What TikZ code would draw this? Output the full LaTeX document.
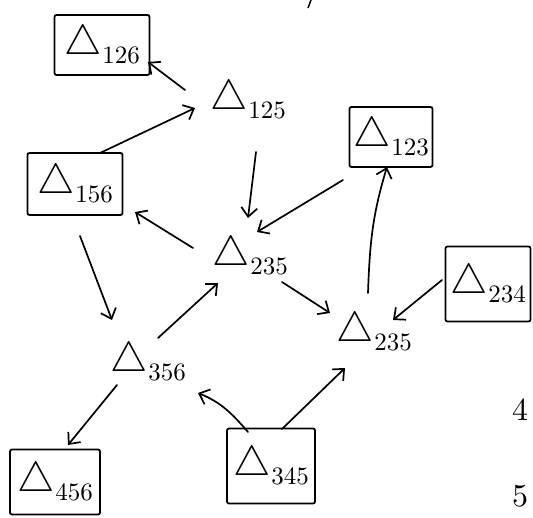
\documentclass[tikz,border=0pt]{standalone}
\usepackage{graphicx}
\usetikzlibrary{arrows.meta,calc}
\newcommand\mytri[1]{\scalebox{4.2}{$\triangle$}\kern1pt\raisebox{-9pt}{\scalebox{2.5}{#1}}}
\tikzset{
  lab/.style={inner sep=0pt},
  bx/.style={draw, line width=1.8pt, rounded corners=2pt, inner sep=0pt},
  arr/.style={line width=1.7pt, line cap=round, -{Straight Barb[length=9pt,width=16pt,line width=1.7pt]}},
  strayglyph/.style={inner sep=0pt, font=\fontsize{10}{12}\selectfont}
}
\begin{document}
\begin{tikzpicture}[x=1pt,y=-1pt]
\useasboundingbox (0,0) rectangle (533,518);
\clip (0,0) rectangle (533,518);
% boxed nodes
\node[bx, minimum width=95pt, minimum height=60pt] (b126) at (102,45) {\mytri{126}};
\node[bx, minimum width=83pt, minimum height=60pt] (b123) at (391,137) {\mytri{123}};
\node[bx, minimum width=95pt, minimum height=62pt] (b156) at (75,184) {\mytri{156}};
\node[bx, minimum width=85pt, minimum height=75pt] (b234) at (488,284) {\mytri{234}};
\node[bx, minimum width=90pt, minimum height=65pt] (b456) at (55,482) {\mytri{456}};
\node[bx, minimum width=88pt, minimum height=75pt] (b345) at (271,466) {\mytri{345}};
% plain nodes
\node[lab] (n125) at (248,100) {\mytri{125}};
\node[lab] (n235a) at (250,256) {\mytri{235}};
\node[lab] (n235b) at (374,332) {\mytri{235}};
\node[lab] (n356) at (148,362) {\mytri{356}};
% stray marks at the edges
\node[strayglyph] (m4) at (520,410) {\scalebox{3.2}{4}};
\node[strayglyph] (m5) at (520,496) {\scalebox{3.2}{5}};
\draw[line width=1.5pt] (311,0) -- (308,8);
% connectors
\draw[arr] ($(n125)+(-63,-10)$) -- ($(b126)+(46,17)$);
\draw[arr] ($(b156)+(25,-31)$) -- ($(n125)+(-53,8)$);
\draw[arr] ($(n125)+(8,52)$) -- ($(n235a)+(-2,-38)$);
\draw[arr] ($(b123)+(-48,43)$) -- ($(n235a)+(7,-24)$);
\draw[arr] ($(n235a)+(-57,-8)$) -- ($(b156)+(60,28)$);
\draw[arr] ($(b156)+(5,52)$) -- ($(n356)+(-36,-42)$);
\draw[arr] ($(n356)+(10,-24)$) -- ($(n235a)+(-32,27)$);
\draw[arr] ($(n235a)+(32,26)$) -- ($(n235b)+(-44,-19)$);
\draw[arr] ($(n235b)+(-6,-39)$) to[out=88,in=-107] ($(b123)+(-4,30)$);
\draw[arr] ($(b234)+(-46,-4)$) -- ($(n235b)+(19,-12)$);
\draw[arr] ($(n356)+(-31,23)$) -- ($(b456)+(13,-37)$);
\draw[arr] ($(b345)+(-23,-34)$) to[out=131,in=-22] ($(n356)+(50,31)$);
\draw[arr] ($(b345)+(11,-37)$) -- ($(n235b)+(-29,36)$);
\end{tikzpicture}
\end{document}
